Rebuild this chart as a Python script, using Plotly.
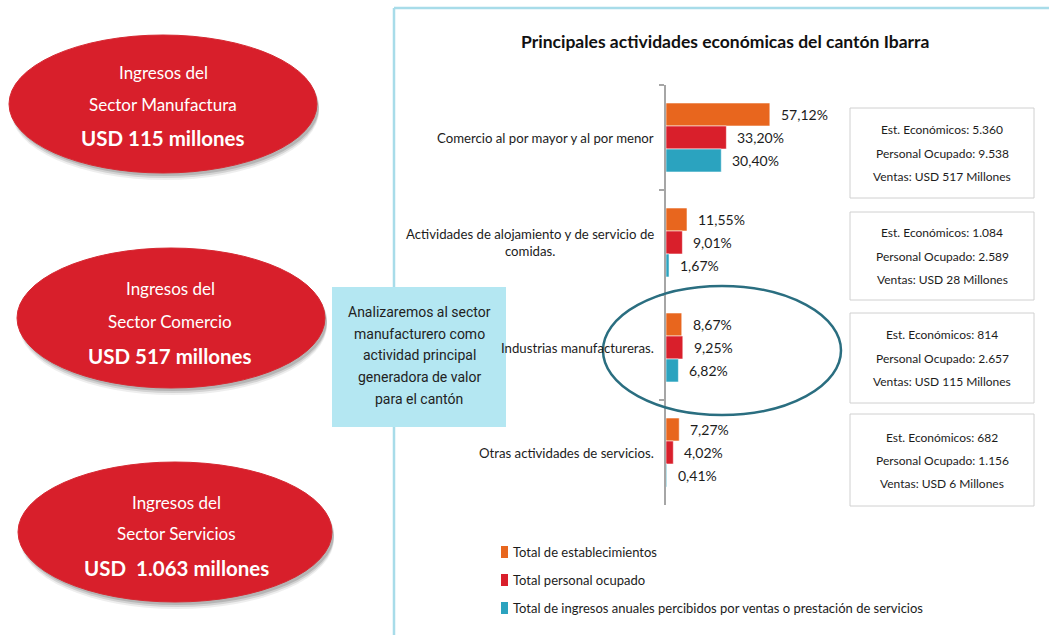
import plotly.graph_objects as go

# ---------------- data ----------------
categories = [
    "Comercio al por mayor y al por menor",
    "Actividades de alojamiento y de servicio de comidas.",
    "Industrias manufactureras.",
    "Otras actividades de servicios.",
]
category_labels = [
    "Comercio al por mayor y al por menor",
    "Actividades de alojamiento y de servicio de<br>comidas.",
    "Industrias manufactureras.",
    "Otras actividades de servicios.",
]
series_names = [
    "Total de establecimientos",
    "Total personal ocupado",
    "Total de ingresos anuales percibidos por ventas o prestación de servicios",
]
establecimientos = [57.12, 11.55, 8.67, 7.27]
personal_ocupado = [33.20, 9.01, 9.25, 4.02]
ingresos = [30.40, 1.67, 6.82, 0.41]

est_economicos = ["5.360", "1.084", "814", "682"]
personal_total = ["9.538", "2.589", "2.657", "1.156"]
ventas_millones = ["517", "28", "115", "6"]

sector_titles = ["Sector Manufactura", "Sector Comercio", "Sector Servicios"]
sector_ingresos = ["USD 115 millones", "USD 517 millones", "USD  1.063 millones"]

nota = ["Analizaremos al sector", "manufacturero como", "actividad principal",
        "generadora de valor", "para el cantón"]

title = "Principales actividades económicas del cantón Ibarra"

colors = ["#E8661E", "#D91F2B", "#2BA3BF"]

# ---------------- helpers ----------------
W, H = 1049, 635
def px(x):
    return x / W
def py(y):
    return 1 - y / H

GEO = "Lato, Roboto, sans-serif"
NOTE = "Roboto, Liberation Sans, sans-serif"
TXT = "#1c1c1c"

fig = go.Figure()
series = [establecimientos, personal_ocupado, ingresos]
for name, vals, col in zip(series_names, series, colors):
    fig.add_trace(go.Bar(
        y=categories, x=vals, orientation="h", name=name,
        marker=dict(color=col, line=dict(color="rgba(255,255,255,0.55)", width=1)),
        showlegend=False, hoverinfo="x+y",
    ))

shapes = []
annotations = []

# panel border
shapes.append(dict(type="line", xref="paper", yref="paper", x0=px(394), x1=px(1049),
                   y0=py(8), y1=py(8), line=dict(color="#A8DCE9", width=2.5), layer="below"))
shapes.append(dict(type="line", xref="paper", yref="paper", x0=px(394), x1=px(394),
                   y0=py(8), y1=py(635), line=dict(color="#A8DCE9", width=2.5), layer="below"))

# title
annotations.append(dict(text="<b>" + title + "</b>", x=px(725), y=py(41), xref="paper", yref="paper",
                        showarrow=False, xanchor="center", yanchor="middle",
                        font=dict(family=GEO, size=17.5, color="#111")))

# category labels
for cat, lab in zip(categories, category_labels):
    annotations.append(dict(text=lab, x=px(656), y=cat, xref="paper", yref="y",
                            showarrow=False, xanchor="right", yanchor="middle", align="center",
                            font=dict(family=GEO, size=13.2, color=TXT)))

# value labels
for i, vals in enumerate(series):
    for cat, v in zip(categories, vals):
        annotations.append(dict(text=f"{v:.2f}%".replace(".", ","), x=v, y=cat, xref="x", yref="y",
                                showarrow=False, xanchor="left", yanchor="middle",
                                xshift=9, yshift=(1 - i) * 23,
                                font=dict(family=GEO, size=14, color=TXT)))

# right-side info boxes
box_y = [(108, 198), (212, 300), (313, 403), (414, 506)]
for (y0, y1), e, p, v in zip(box_y, est_economicos, personal_total, ventas_millones):
    shapes.append(dict(type="rect", xref="paper", yref="paper", x0=px(850), x1=px(1034),
                       y0=py(y1), y1=py(y0), line=dict(color="#D0D0D0", width=1),
                       fillcolor="white"))
    cy = (y0 + y1) / 2
    for k, line in enumerate([f"Est. Económicos: {e}", f"Personal Ocupado: {p}",
                              f"Ventas: USD {v} Millones"]):
        annotations.append(dict(text=line, x=px(942), y=py(cy + (k - 1) * 23),
                                xref="paper", yref="paper", showarrow=False,
                                xanchor="center", yanchor="middle",
                                font=dict(family=GEO, size=12, color=TXT)))

# highlight ellipse
shapes.append(dict(type="circle", xref="paper", yref="paper", x0=px(603), x1=px(841),
                   y0=py(415), y1=py(286), line=dict(color="#2A6E80", width=2.5),
                   fillcolor="rgba(0,0,0,0)", layer="above"))

# red ellipses with shadow
ell = [(163, 104, 154, 69), (171, 318, 154, 70), (175, 532, 157, 70)]
text_y = [(72, 104, 138), (288, 321, 356), (502, 533, 568)]
text_x = [163, 170, 176]
for (cx, cy, rx, ry), ty, tx, st, si in zip(ell, text_y, text_x, sector_titles, sector_ingresos):
    for off, op in [(7, 0.10), (5, 0.18), (3, 0.25)]:
        shapes.append(dict(type="circle", xref="paper", yref="paper",
                           x0=px(cx - rx + 2), x1=px(cx + rx + 2),
                           y0=py(cy + ry + off), y1=py(cy - ry + off),
                           line=dict(width=0), fillcolor=f"rgba(90,90,90,{op})"))
    shapes.append(dict(type="circle", xref="paper", yref="paper",
                       x0=px(cx - rx), x1=px(cx + rx), y0=py(cy + ry), y1=py(cy - ry),
                       line=dict(color="#D62A33", width=1), fillcolor="#D81F2B"))
    for txt, yy, fs in [("Ingresos del", ty[0], 17), (st, ty[1], 17),
                        ("<b>" + si.replace("  ", "\u00a0\u00a0") + "</b>", ty[2], 20.5)]:
        annotations.append(dict(text=txt, x=px(tx), y=py(yy), xref="paper", yref="paper",
                                showarrow=False, xanchor="center", yanchor="middle",
                                font=dict(family=GEO, size=fs, color="white")))

# note box
shapes.append(dict(type="rect", xref="paper", yref="paper", x0=px(332), x1=px(506),
                   y0=py(427), y1=py(287), line=dict(width=0), fillcolor="#B4E7F2"))
for k, line in enumerate(nota):
    annotations.append(dict(text=line, x=px(419), y=py(312 + k * 21.7), xref="paper", yref="paper",
                            showarrow=False, xanchor="center", yanchor="middle",
                            font=dict(family=NOTE, size=14, color="#222")))

# legend (manual)
leg_y = [552, 580, 608]
for name, col, ly in zip(series_names, colors, leg_y):
    shapes.append(dict(type="rect", xref="paper", yref="paper", x0=px(501), x1=px(508),
                       y0=py(ly + 6), y1=py(ly - 6), line=dict(width=0), fillcolor=col))
    annotations.append(dict(text=name, x=px(511), y=py(ly), xref="paper", yref="paper",
                            showarrow=False, xanchor="left", yanchor="middle",
                            font=dict(family=GEO, size=13, color=TXT)))

fig.update_layout(
    width=W, height=H, margin=dict(l=0, r=0, t=0, b=0),
    paper_bgcolor="white", plot_bgcolor="rgba(0,0,0,0)",
    barmode="group", bargap=0.343, bargroupgap=0,
    showlegend=False,
    xaxis=dict(domain=[px(666), px(846)], range=[0, 99], visible=False, fixedrange=True),
    yaxis=dict(domain=[py(505), py(85)], type="category", categoryorder="array",
               categoryarray=categories, autorange="reversed", showticklabels=False,
               showline=True, linecolor="#A6A6A6", linewidth=1.5, ticks="outside",
               tickson="boundaries", ticklen=5, tickcolor="#A6A6A6", tickwidth=1.5,
               showgrid=False, zeroline=False, fixedrange=True),
    shapes=shapes, annotations=annotations,
)

fig.write_html("out.html", config={"displayModeBar": False},
               post_script="document.body.style.margin='0';document.body.style.overflow='hidden';")
